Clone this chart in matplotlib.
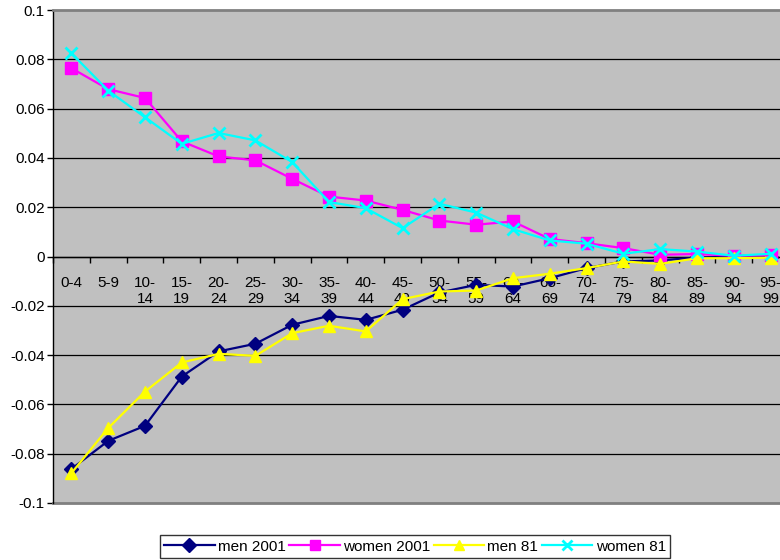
import matplotlib
matplotlib.use('Agg')
import matplotlib.pyplot as plt
import numpy as np
from matplotlib.ticker import FixedLocator, FuncFormatter

plt.rcParams['font.family'] = ['Liberation Sans', 'DejaVu Sans']

# ── age groups and population shares ─────────────────────────────────────────
age_groups = ['0-4', '5-9', '10-\n14', '15-\n19', '20-\n24', '25-\n29', '30-\n34',
              '35-\n39', '40-\n44', '45-\n49', '50-\n54', '55-\n59', '60-\n64',
              '65-\n69', '70-\n74', '75-\n79', '80-\n84', '85-\n89', '90-\n94',
              '95-\n99']

men_2001 = [-0.0862, -0.0748, -0.0687, -0.0487, -0.0385, -0.0354, -0.0277,
            -0.0241, -0.0257, -0.0216, -0.0146, -0.0115, -0.0122, -0.0088,
            -0.0047, -0.0020, -0.0016, -0.0004, -0.0001, 0.0000]
women_2001 = [0.0764, 0.0679, 0.0643, 0.0467, 0.0406, 0.0390, 0.0315,
              0.0243, 0.0227, 0.0189, 0.0146, 0.0129, 0.0142, 0.0071,
              0.0054, 0.0034, 0.0007, 0.0010, 0.0003, 0.0005]
men_81 = [-0.0879, -0.0696, -0.0548, -0.0430, -0.0395, -0.0403, -0.0311,
          -0.0281, -0.0304, -0.0173, -0.0142, -0.0138, -0.0088, -0.0070,
          -0.0047, -0.0020, -0.0030, -0.0007, -0.0007, -0.0005]
women_81 = [0.0825, 0.0673, 0.0565, 0.0457, 0.0501, 0.0471, 0.0383,
            0.0221, 0.0196, 0.0115, 0.0214, 0.0178, 0.0111, 0.0065,
            0.0052, 0.0011, 0.0030, 0.0020, 0.0003, 0.0011]

series = [
    ('men 2001',   men_2001,   '#000080', 'D', 7,  1.0),
    ('women 2001', women_2001, '#FF00FF', 's', 9,  1.0),
    ('men 81',     men_81,     '#FFFF00', '^', 9,  1.0),
    ('women 81',   women_81,   '#00FFFF', 'x', 9,  2.0),
]

# ─────────────────────────────────────────────────────────────────────────────

fig = plt.figure(figsize=(7.8, 5.6), dpi=100)
ax = fig.add_axes([53 / 780, 1 - 503 / 560, 736 / 780, 493 / 560])
ax.set_facecolor('#C0C0C0')

x = np.arange(len(age_groups)) + 0.5
for name, vals, col, mk, ms, mew in series:
    ax.plot(x, vals, color=col, linewidth=1.6, marker=mk, markersize=ms,
            markeredgewidth=mew, markeredgecolor=col, label=name, clip_on=False,
            zorder=3)

ax.set_xlim(0, len(age_groups))
ax.set_ylim(-0.1, 0.1)

# y axis
yt = np.round(np.arange(-0.1, 0.1001, 0.02), 2)
ax.yaxis.set_major_locator(FixedLocator(yt))
ax.yaxis.set_major_formatter(FuncFormatter(lambda v, p: f'{v:g}'))
ax.tick_params(axis='y', direction='out', length=4, width=1, labelsize=11,
               pad=2, colors='black')
for v in yt[1:-1]:
    ax.axhline(v, color='black', linewidth=0.9, zorder=1)

# category axis sits at zero
ax.spines['bottom'].set_position(('data', 0))
ax.spines['bottom'].set_linewidth(1.0)
ax.spines['bottom'].set_zorder(2)
ax.spines['left'].set_linewidth(1.0)
ax.spines['top'].set_color('#808080')
ax.spines['top'].set_linewidth(2)
ax.spines['right'].set_visible(False)
ax.axhline(-0.1, color='#808080', linewidth=2, clip_on=False, zorder=2)

ax.set_xticks(np.arange(0, len(age_groups) + 1), minor=False)
ax.set_xticklabels([])
ax.set_xticks(x, minor=True)
ax.set_xticklabels(age_groups, minor=True, fontsize=11, linespacing=1.2,
                   va='top')
ax.tick_params(axis='x', which='major', direction='out', length=4, width=1)
ax.tick_params(axis='x', which='minor', length=0, pad=14)

leg = fig.legend(loc='upper center', bbox_to_anchor=(415 / 780, 1 - 535 / 560),
                 ncol=4, fontsize=11, frameon=True, fancybox=False,
                 edgecolor='black', handlelength=3.3, handletextpad=0.2,
                 columnspacing=0.25, borderpad=0.3, borderaxespad=0)
leg.get_frame().set_linewidth(1.0)
for h in leg.legend_handles:
    h.set_markersize(7)

fig.savefig('out.png', dpi=100)
